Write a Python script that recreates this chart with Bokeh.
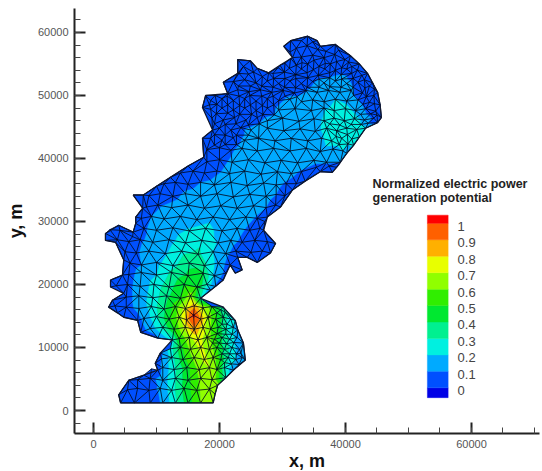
from bokeh.plotting import figure
from bokeh.embed import file_html
from bokeh.resources import INLINE
from bokeh.models import Range1d, FixedTicker, NumeralTickFormatter
from bokeh.core.properties import value
import numpy as np

coast = [(30.2,57.8,.02),(31.3,58.7,.02),(34,59.4,.02),(35.5,58.7,.02),(36,57.8,.02),(38.4,58.1,.02),(40.8,56.3,.02),
(42.2,55,.02),(43.5,53.5,.02),(44.3,52,.02),(45.1,50.5,.02),(45.5,48.5,.02),(45.7,46.5,.03),(45.1,45.7,.05),(43.2,44.8,.22),(42.2,43.4,.22),(41.3,42.1,.22),
(40.2,40.8,.15),(39.2,39.4,.1),(38.6,38.6,.07),(37.9,37.8,.05),(36,37.9,.03),(33.6,36.4,.03),(31.6,35,.03),(29.7,32.3,.03),(27.6,30.7,.03),
(27,28.6,.03),(28.9,26.5,.02),(28.1,25,.02),(26,23.5,.02),(24.4,24.3,.03),(22.9,24.3,.04),(23.6,22.3,.03),(22.5,21.8,.03),(21.7,23.1,.05),
(20.6,20.7,.05),(18.6,19.1,.08),(17,17.8,.3),(20.6,16.4,.35),(22.5,14.3,.2),(22.9,12.8,.18),(23.8,10.7,.13),(24.1,8,.1),(22.2,6.4,.1),
(21,5.2,.3),(19.7,4,.65),(19.3,2.6,.68),(19,1.2,.7),(17,1.2,.6),(15,1.2,.45),(13,1.2,.28),(11,1.2,.11),(9,1.2,.06),(6.5,1.2,.04),(4.3,1.2,.03),
(4,2.5,.03),(5.6,4.8,.03),(8,5.6,.04),(10.2,6.4,.05),(9.8,7.5,.05),(10.6,9.1,.06),(12.5,11.2,.25),(10.2,11.5,.08),(7.5,12.4,.06),(7,14.3,.06),
(4.8,14.8,.03),(3.8,15.5,.03),(2.4,16.4,.02),(3,17.5,.02),(4.8,18.6,.05),(2.7,19.6,.02),(2.7,20.7,.02),(4.6,21.5,.04),(4.8,23.9,.04),
(3.5,26.7,.02),(1.9,27,.02),(1.9,28.1,.02),(4,29.4,.03),(6.3,28.3,.05),(6.7,29.7,.05),(6.7,30.7,.05),(7.8,32.1,.07),(6.3,34.2,.03),(7.9,34.2,.03),
(10,35.6,.03),(12.2,37,.03),(15,38.8,.03),(17.5,40.2,.03),(17.3,43.2,.03),(18.9,44.5,.03),(17.3,48.1,.03),(17.8,50,.03),(21.3,50.3,.03),(20.6,52.1,.03),
(22.9,53.5,.03),(22.9,55.7,.02),(24.9,55.5,.02),(26,54.3,.03),(27.8,53.6,.03),(29.6,54.8,.03),(31.6,56,.03)]

north_nodes = [(32.2,57.5,.03),(33.9,57.9,.03),(35.6,57.3,.03),(33,56.1,.04),(34.8,56.4,.04),(36.6,56,.04),(38.3,56.5,.03),(39.9,55.7,.04),
(30.4,55.1,.04),(32.2,54.8,.05),(34,55,.05),(35.8,54.6,.06),(37.6,55,.06),(39.4,54.4,.06),(41,54.6,.04),
(28.5,53.5,.05),(30.3,53.7,.06),(32.1,53.3,.07),(33.9,53.6,.08),(35.7,53.2,.09),(37.5,53.6,.09),(39.3,53.3,.1),(41,53.5,.09),(42.6,53.2,.05),
(23.8,54.6,.03),(25.4,53.7,.04),(22.2,52.2,.04),(24,52.5,.05),(25.8,52,.06),(27.6,52.3,.07),(29.4,51.9,.08),(31.2,52.3,.085),(33,51.9,.09),(34.8,52.2,.097),
(36.6,52,.11),(38.4,52.3,.12),(40.2,51.9,.11),(42,52.1,.08),(43.8,51.5,.05),
(22.9,50.9,.05),(24.7,50.6,.06),(26.5,50.9,.07),(28.3,50.5,.08),(30.1,50.8,.09),(31.9,50.4,.09),(33.7,50.8,.095),(35.5,50.5,.12),(37.3,50.8,.15),(39.1,50.5,.16),(40.9,50.8,.11),(42.7,50.4,.08),(44.5,50,.04),
(18.6,49.2,.04),(20.4,49.5,.05),(22.2,49.2,.06),(24,49.5,.07),(25.8,49.1,.08),(27.6,49.5,.08),(29.4,49.2,.09),(31.2,49.4,.11),(33,49,.12),(34.8,49.3,.14),(36.6,49,.17),(38.4,49.4,.2),(40.2,49.1,.17),(42,49.3,.1),(43.8,48.9,.07),
(18.6,47.8,.05),(20.4,48,.06),(22.2,47.7,.07),(24,48,.08),(25.8,47.6,.09),(27.6,48,.095),(29.4,47.7,.11),(32,47.9,.13),(34.6,47.6,.15),(36.6,48,.19),(38.2,47.6,.22),(40,47.9,.24),(41.6,47.6,.17),(43.2,47.9,.09),(44.8,47.5,.05),
(18.8,46.4,.05),(20.6,46.1,.06),(22.4,46.5,.07),(24.2,46.1,.08),(26,46.5,.09),(27.6,46,.11),(30,46.4,.13),(32.6,45.9,.15),(35,46.3,.17),(36.6,46,.21),(38.2,46.4,.26),(39.8,46,.28),(41.4,46.3,.25),(43,46.1,.16),(44.5,46.4,.08),
(20,44.8,.06),(21.8,44.5,.07),(23.4,44.9,.09),(25,44.5,.11),(27.6,44.8,.13),(30.2,44.4,.15),(32.8,44.7,.16),(35.2,44.3,.18),(37,44.8,.22),(38.6,44.4,.27),(40.2,44.8,.29),(41.8,44.6,.24)]

north_fine_nodes = [(31.2,56.9,.03),(33,58.7,.02),(34.8,58.5,.02),(36.9,57,.03),(38.9,57.2,.03),(40.5,55.3,.03),(31.3,55.9,.04),(33.1,55.2,.05),(35,55.6,.05),(36.8,55.1,.05),(38.6,55.4,.05),
(29.3,54.4,.04),(31.1,54.3,.05),(33,54.2,.06),(34.9,54.1,.07),(36.7,54.2,.07),(38.4,54,.08),(40.2,54.2,.06),(41.9,54,.05),
(26.8,53,.05),(28.6,52.7,.06),(30.4,52.7,.07),(32.1,52.7,.08),(34,52.8,.09),(35.8,52.6,.1),(37.5,52.8,.1),(39.4,52.6,.11),(41.2,52.7,.09),(43,52.5,.04),
(23.1,53.5,.04),(24.6,53.4,.05),(26.7,51.5,.07),(23,51.5,.05),(24.9,51.5,.06),(28.5,51.3,.08),(30.3,51.3,.09),(32.1,51.2,.09),(33.9,51.3,.095),(35.8,51.3,.11),(37.5,51.4,.13),(39.3,51.3,.13),(41.2,51.3,.1),(43.1,51.2,.06),(44.6,51,.04),
(19.3,50,.04),(21.2,49.9,.05),(23.1,49.9,.06),(24.8,50,.07),(26.7,49.9,.08),(28.5,49.9,.085),(30.4,49.9,.095),(32.3,49.8,.1),(41.3,50,.1),(43.3,49.8,.06),
(18.4,48.5,.04),(19.6,48.6,.05),(21.3,48.5,.06),(23.2,48.4,.07),(24.9,48.5,.08),(26.8,48.4,.085),(28.6,48.5,.09),(42.8,48.6,.09),(44.6,48.7,.04),
(19.5,47.1,.05),(21.3,47.2,.06),(23.2,47,.07),(25.1,47,.08),(26.9,47,.09),(28.7,46.9,.1),(42.4,47,.14),(44,47.1,.07),(45,46.9,.04),
(19.2,45.5,.05),(20.9,45.4,.06),(22.6,45.5,.07),(24.6,45.3,.09),(26.3,45.5,.1),(43.6,45.6,.1),(39.1,45.3,.29),(37.5,45.5,.24),(40.9,45.4,.27),(42.5,45.4,.2),
(19.2,43.8,.05),(20.9,43.7,.06),(22.7,43.7,.08),(24.6,43.7,.11),(19.2,42.1,.05),(20.9,42.2,.07),(22.7,42.2,.09),(38.5,43.5,.25),(40.3,43.8,.26),(39,42.2,.21),(40.4,42.3,.2)]

middle_nodes = [(18.6,43.2,.05),(20.4,42.9,.07),(22.2,43.3,.09),(24,42.9,.11),(26.2,43.2,.13),(28.8,42.8,.15),(31.4,43.2,.16),(34,42.8,.17),(36.2,43.2,.19),(37.8,42.8,.23),(39.4,43.2,.27),(41,43.1,.22),
(18,41.4,.05),(20,41.7,.07),(21.8,41.3,.09),(23.6,41.6,.12),(26,41.2,.14),(28.6,41.6,.15),(31.2,41.2,.16),(33.8,41.6,.16),(36,41.1,.17),(38,41.5,.18),(39.6,41.2,.2),
(18,39.5,.05),(20,39.8,.08),(22,39.4,.11),(24.6,39.8,.13),(27.2,39.3,.15),(29.8,39.7,.15),(32.4,39.3,.15),(35,39.7,.13),(37,39.4,.11),(35.4,38.6,.07),(37.4,38.8,.08),
(13.8,37.7,.04),(15.8,38,.06),(17.6,37.7,.07),(19.6,38,.09),(21.6,37.6,.12),(24,38,.14),(26.6,37.5,.15),(29.2,37.9,.15),(31.4,37.6,.12),(33,37.9,.09),
(11.2,36,.04),(13,36.2,.05),(15,35.9,.08),(17,36.2,.1),(19.2,35.8,.12),(21.8,36.2,.14),(24.4,35.7,.15),(27,36.1,.15),(29,35.8,.12),(30.6,36,.09),(32.2,36,.06),
(8.8,34.1,.04),(10.6,34.4,.06),(12.6,34,.08),(14.6,34.4,.11),(17,34,.13),(19.6,34.4,.14),(22.2,33.9,.15),(24.8,34.3,.15),(27.4,34,.13),(29,34.3,.1),(30.4,34.1,.06),
(8.4,32.3,.06),(10.2,32.6,.09),(12.4,32.2,.12),(15,32.6,.14),(17.6,32.1,.15),(20.2,32.5,.16),(22.8,32.1,.16),(25.4,32.5,.14),(27.4,32.2,.1),(28.9,32.6,.06),
(7.6,30.5,.07),(9.2,30.8,.1),(11.2,30.4,.13),(13.8,30.8,.15),(16.4,30.3,.17),(19,30.7,.18),(21.6,30.3,.17),(24.2,30.7,.13),(26,30.5,.09),(27.2,30,.05),
(2.6,28.7,.02),(4.2,28.6,.03),(6.2,27.6,.05),(8,28.9,.09),(10,28.6,.13),(12.6,29,.16),(15.2,28.5,.21),(17.8,28.9,.22),(20.4,28.5,.18),(22.8,28.9,.13),(24.8,28.6,.08),(26.4,28.9,.05),
(3.8,27.1,.03),(5.6,26.8,.05),(7.4,27.1,.09),(9.4,26.7,.12),(12,27.1,.17),(14.6,26.6,.25),(17.2,27,.28),(19.8,26.6,.19),(21.8,27,.13),(23.6,26.7,.08),(25.6,27,.05),(27.6,26.8,.03),
(5,25.2,.05),(6.8,25,.09),(8.8,25.3,.13),(11.4,24.9,.19),(14,25.3,.27),(16.6,24.8,.32),(19,25.2,.2),(21,24.9,.12),(22.6,25.3,.07),(25,25.1,.05),(26.8,25.3,.04),
(5.8,23.4,.06),(7.6,23.1,.1),(10,23.5,.17),(12.6,23,.27),(15.2,23.4,.38),(17.6,23,.32),(19.8,23.4,.16),
(5.6,21.6,.07),(7.6,21.9,.13),(10,21.5,.2),(12.4,21.9,.32),(15,21.4,.42),(17.4,21.8,.42),(19.2,21.4,.18),(21,21.8,.07)]

south_nodes = [(3.6,19.8,.03),(5.4,20,.07),(7.4,19.7,.14),(9.6,20,.23),(12,19.6,.36),(14.4,20,.48),(16.4,19.6,.5),(18,20,.3),(19.4,19.7,.08),
(5.2,18,.06),(7.2,18.2,.14),(9.4,17.9,.24),(11.6,18.2,.37),(13.8,17.8,.5),(15.4,18.2,.65),
(3.4,16.6,.03),(5.2,16.4,.06),(7.2,16.2,.13),(9.2,16.5,.24),(11.2,16.1,.38),(13,16.5,.55),(14.6,16.2,.75),(16,16.6,.85),(17.4,16.3,.68),(18.8,16.5,.55),(20.2,16,.38),
(8,14.6,.12),(10,14.9,.28),(12,14.5,.48),(13.6,14.8,.65),(14.8,14.4,.85),(15.9,15.1,1.03),(17,14.5,.88),(18.2,14.8,.66),(19.4,14.5,.52),(20.6,14.8,.38),(21.8,14.5,.22),
(9,13,.13),(11,13.2,.32),(12.8,12.9,.5),(14.6,13.2,.74),(16,12.9,.88),(17.4,13.2,.74),(18.6,12.9,.6),(19.8,13.2,.46),(21,12.9,.32),(22.2,13.2,.2),
(13.6,11.4,.5),(15.2,11.6,.68),(16.6,11.2,.74),(18,11.6,.66),(19.2,11.3,.54),(20.4,11.6,.4),(21.6,11.3,.28),(22.8,11.6,.16),
(12.2,9.8,.25),(13.8,10,.46),(15.4,9.7,.62),(17,10,.72),(18.4,9.7,.66),(19.6,10,.52),(20.8,9.7,.37),(22,10,.25),(23.2,9.7,.15),
(10.8,8.2,.1),(12.4,8.4,.25),(14.2,8.1,.46),(16,8.4,.63),(17.6,8.1,.72),(19,8.4,.65),(20.2,8.1,.48),(21.4,8.4,.3),(22.6,8.1,.2),(23.6,8.4,.1),
(9.2,6.6,.05),(11,6.8,.12),(12.8,6.5,.27),(14.8,6.8,.46),(16.8,6.5,.63),(18.4,6.8,.7),(19.6,6.5,.58),(20.8,6.8,.3),
(7,4.9,.05),(9,5.1,.07),(11,4.8,.14),(13,5.1,.3),(15,4.8,.47),(17,5.1,.62),(18.8,4.9,.7),
(5.4,3.3,.04),(7,3.5,.06),(8.8,3.2,.08),(10.6,3.5,.11),(12.4,3.2,.25),(14.4,3.5,.43),(16.4,3.2,.57),(18.4,3.4,.69),
(19.6,15.5,.48),(20.9,15.6,.37),(21.2,13.7,.28),(20.4,13.7,.38),(22,12.1,.22),(21,12.1,.32),(22.3,10.8,.2),(21.1,10.6,.32),(22.7,9,.18),(21.6,9,.28),(20.4,9,.4),(23.4,9.1,.12),(21.9,7.4,.22),(23.1,7.3,.12),(20.8,7.6,.35),(19.6,12.2,.5),(18.9,10.7,.58),(20,10.7,.44)]

levels = [0, .1, .2, .3, .4, .5, .6, .7, .8, .9, 1]
band_colors = ["#0000e6", "#0050ff", "#00aaff", "#00f0e0", "#00f090", "#00e830", "#30ee00",
               "#90ff00", "#e8ff00", "#ffb000", "#ff6000", "#ff0000"]
legend_title = ["Normalized electric power", "generation potential"]
legend_labels = ["0", "0.1", "0.2", "0.3", "0.4", "0.5", "0.6", "0.7", "0.8", "0.9", "1"]

pts = np.array(coast + north_nodes + north_fine_nodes + middle_nodes + south_nodes, dtype=float)
X, Y, V = pts[:, 0], pts[:, 1], pts[:, 2]
cx, cy = np.array(coast)[:, 0], np.array(coast)[:, 1]


def delaunay(x, y):
    n = len(x)
    px = list(x) + [-1000.0, 1000.0, 0.0]
    py = list(y) + [-1000.0, -1000.0, 1000.0]

    def circ(a, b, c):
        ax, ay, bx, by, dx, dy = px[a], py[a], px[b], py[b], px[c], py[c]
        d = 2 * (ax * (by - dy) + bx * (dy - ay) + dx * (ay - by))
        if abs(d) < 1e-12:
            d = 1e-12
        ux = ((ax*ax+ay*ay)*(by-dy)+(bx*bx+by*by)*(dy-ay)+(dx*dx+dy*dy)*(ay-by))/d
        uy = ((ax*ax+ay*ay)*(dx-bx)+(bx*bx+by*by)*(ax-dx)+(dx*dx+dy*dy)*(bx-ax))/d
        return ux, uy, (ax-ux)**2+(ay-uy)**2

    tris = {(n, n+1, n+2): circ(n, n+1, n+2)}
    seen = set()
    for i in range(n):
        key = (round(px[i], 4), round(py[i], 4))
        if key in seen:
            continue
        seen.add(key)
        bad = [t for t, (ux, uy, r) in tris.items() if (px[i]-ux)**2+(py[i]-uy)**2 < r]
        edges = {}
        for t in bad:
            for a, b in ((t[0], t[1]), (t[1], t[2]), (t[2], t[0])):
                k = (min(a, b), max(a, b))
                edges[k] = edges.get(k, 0) + 1
            del tris[t]
        for (a, b), c in edges.items():
            if c == 1:
                tris[(a, b, i)] = circ(a, b, i)
    return [t for t in tris if max(t) < n]


def inside(x, y):
    c = False
    m = len(cx)
    for i in range(m):
        j = (i + 1) % m
        if (cy[i] > y) != (cy[j] > y) and x < cx[i] + (y - cy[i]) * (cx[j] - cx[i]) / (cy[j] - cy[i]):
            c = not c
    return c


def keep_triangle(t):
    a, b, c = t
    if not inside((X[a]+X[b]+X[c])/3, (Y[a]+Y[b]+Y[c])/3):
        return False
    mids = [((X[a]+X[b])/2, (Y[a]+Y[b])/2), ((X[b]+X[c])/2, (Y[b]+Y[c])/2), ((X[c]+X[a])/2, (Y[c]+Y[a])/2)]
    return sum(inside(x + 1e-4, y + 1.3e-4) for x, y in mids) >= 2


def clip(poly, lev, keep_above):
    out = []
    for i in range(len(poly)):
        a, b = poly[i], poly[(i + 1) % len(poly)]
        ina = (a[2] >= lev) == keep_above
        inb = (b[2] >= lev) == keep_above
        if ina:
            out.append(a)
        if ina != inb:
            t = (lev - a[2]) / (b[2] - a[2])
            out.append(tuple(a[k] + t * (b[k] - a[k]) for k in range(3)))
    return out


triangles = [t for t in delaunay(X, Y) if keep_triangle(t)]

fill_xs, fill_ys, fill_c = [], [], []
bounds = [-9] + levels + [9]
for t in triangles:
    tri = [(X[i], Y[i], V[i]) for i in t]
    for k, col in enumerate(band_colors):
        poly = clip(clip(tri, bounds[k], True), bounds[k + 1], False)
        if len(poly) >= 3:
            fill_xs.append([q[0] * 1000 for q in poly])
            fill_ys.append([q[1] * 1000 for q in poly])
            fill_c.append(col)

edge_set = set()
for t in triangles:
    for a, b in ((t[0], t[1]), (t[1], t[2]), (t[2], t[0])):
        edge_set.add((min(a, b), max(a, b)))
edge_xs = [[X[a] * 1000, X[b] * 1000] for a, b in edge_set]
edge_ys = [[Y[a] * 1000, Y[b] * 1000] for a, b in edge_set]

p = figure(frame_width=465, frame_height=425, output_backend="svg", toolbar_location=None,
           x_range=Range1d(-3016, 70800), y_range=Range1d(-3650, 63800),
           min_border_left=74, min_border_right=2, min_border_top=8, min_border_bottom=38)
p.grid.visible = False
p.outline_line_color = None
p.background_fill_color = "white"

p.patch(list(cx * 1000), list(cy * 1000), fill_color="#0050ff", line_color=None)
p.patches(fill_xs, fill_ys, fill_color=fill_c, line_color=fill_c, line_width=0.4)
p.multi_line(edge_xs, edge_ys, line_color="#020818", line_width=0.9, line_alpha=0.9)
p.patch(list(cx * 1000) + [cx[0] * 1000], list(cy * 1000) + [cy[0] * 1000],
        fill_alpha=0, line_color="#101830", line_width=1.3)

# legend, placed with the same scales as the map
lx0, lx1 = 53000, 56300
lev_y = lambda l: 3600 + 26100 * l
edges_y = [lev_y(-0.06)] + [lev_y(l) for l in levels] + [lev_y(1.05)]
p.quad(left=lx0, right=lx1, bottom=edges_y[:-1], top=edges_y[1:], fill_color=band_colors,
       line_color=band_colors, line_width=0.4)
p.text(x=[57800] * len(levels), y=[lev_y(l) - 470 for l in levels], text=legend_labels,
       text_font=value("Liberation Sans"), text_font_size="13px", text_color="#444444",
       text_baseline="middle", text_align="left")
p.text(x=[44300, 44300], y=[35900, 33700], text=legend_title,
       text_font=value("Liberation Sans"), text_font_size="12.5px", text_font_style="bold",
       text_color="#222222", text_baseline="middle", text_align="left")

for ax, major, minor, label in ((p.xaxis[0], [0, 20000, 40000, 60000], list(range(0, 71000, 5000)), "x, m"),
                                (p.yaxis[0], list(range(0, 70000, 10000)), list(range(-2000, 64000, 2000)), "y, m")):
    ax.ticker = FixedTicker(ticks=major, minor_ticks=minor)
    ax.formatter = NumeralTickFormatter(format="0")
    ax.axis_label = label
    ax.axis_label_text_font = "Liberation Sans"
    ax.axis_label_text_font_style = "bold"
    ax.axis_label_text_font_size = "18px"
    ax.axis_label_text_color = "#111111"
    ax.axis_line_color = "#222222"
    ax.axis_line_width = 2
    ax.major_tick_line_color = "#222222"
    ax.major_tick_line_width = 2
    ax.major_tick_in = 11
    ax.major_tick_out = 0
    ax.minor_tick_line_color = "#444444"
    ax.minor_tick_line_width = 1
    ax.minor_tick_in = 6
    ax.minor_tick_out = 0
    ax.major_label_text_font = "Liberation Sans"
    ax.major_label_text_font_size = "11px"
    ax.major_label_text_color = "#555555"
    ax.major_label_standoff = 6
p.yaxis[0].major_label_orientation = "horizontal"
p.xaxis[0].axis_label_standoff = 0
p.yaxis[0].axis_label_standoff = 9

open("out.html", "w").write(file_html(p, INLINE))
